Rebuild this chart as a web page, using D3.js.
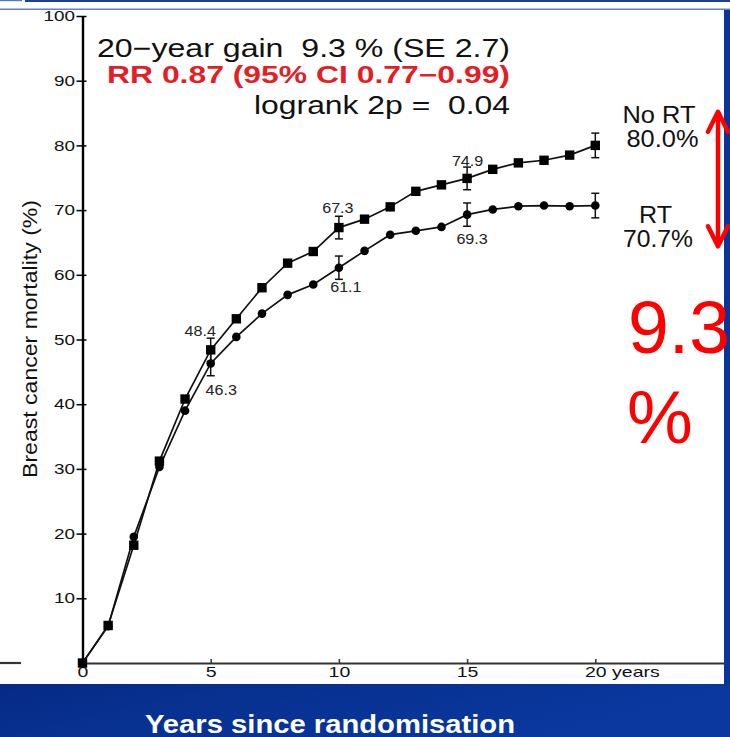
<!DOCTYPE html>
<html>
<head>
<meta charset="utf-8">
<script src="https://cdn.jsdelivr.net/npm/d3@7"></script>
<style>
  html, body { margin: 0; padding: 0; background: #fff; }
  svg { display: block; font-family: "Liberation Sans", Arial, Helvetica, sans-serif; }
  svg text { white-space: pre; }
</style>
</head>
<body>
<svg id="chart" width="730" height="737"></svg>
<script>
// Cumulative breast cancer mortality (%) by year since randomisation
const years = d3.range(0, 21);
const noRT = [0, 5.8, 18.2, 31.2, 40.8, 48.4, 53.2, 58.0, 61.8, 63.6, 67.3, 68.6, 70.5, 72.9, 73.9, 74.9, 76.3, 77.3, 77.7, 78.5, 80.0];
const rt   = [0, 5.7, 19.5, 30.3, 39.0, 46.3, 50.4, 54.0, 56.9, 58.5, 61.1, 63.7, 66.2, 66.8, 67.4, 69.3, 70.1, 70.6, 70.7, 70.6, 70.7];

// Years with error bars and their half-widths (percentage points)
const errYears = [5, 10, 15, 20];
const noRTErr = [1.8, 1.75, 1.75, 1.9];
const rtErr   = [1.9, 1.8, 1.8, 1.9];

// Years whose values are printed next to the curves
const labelYears = [5, 10, 15];

const xTicks = [0, 5, 10, 15, 20];
const yTicks = [10, 20, 30, 40, 50, 60, 70, 80, 90, 100];

const titleLines = ["20\u2212year gain  9.3 % (SE 2.7)", "RR 0.87 (95% CI 0.77\u22120.99)", "logrank 2p =  0.04"];
const gain = 9.3;
const endLabels = [["No RT", "80.0%"], ["RT", "70.7%"]];
// Extent of the double arrow spanning the gap (percent)
const arrowSpan = [85.2, 64.4];

const svg = d3.select("#chart");
const W = 730, H = 737;

const x = d3.scaleLinear().domain([0, 25]).range([82.5, 723.5]);
const y = d3.scaleLinear().domain([0, 100]).range([663, 16]);

// stretch helpers: widen glyphs horizontally
function stretch(sel, f) {
  sel.each(function () {
    const n = this.getComputedTextLength();
    this.setAttribute("textLength", n * f);
    this.setAttribute("lengthAdjust", "spacingAndGlyphs");
  });
}
function fit(sel, w) {
  sel.attr("textLength", w).attr("lengthAdjust", "spacingAndGlyphs");
}

svg.append("rect").attr("width", W).attr("height", H).attr("fill", "#fff");

// ---- axes ----
const xAxis = svg.append("g")
  .attr("transform", `translate(0,${y(0)})`)
  .call(d3.axisBottom(x).tickValues(xTicks).tickSize(-4).tickSizeOuter(0).tickPadding(3)
    .tickFormat(d => d === 20 ? "20 years" : d));
xAxis.select(".domain").attr("stroke", "#333").attr("stroke-width", 2.2);
xAxis.selectAll(".tick line").attr("stroke", "#333").attr("stroke-width", 1.5);
xAxis.selectAll(".tick text").attr("font-size", 15).attr("fill", "#111")
  .attr("font-family", "Liberation Sans, Arial, sans-serif");
// the "20" of "20 years" sits centred on its tick
const probe = svg.append("text").attr("font-size", 15).text("20");
const w20 = probe.node().getComputedTextLength();
probe.remove();
xAxis.selectAll(".tick text").filter(d => d === 20)
  .attr("text-anchor", "start").attr("x", -w20 * 1.3 / 2);
stretch(xAxis.selectAll(".tick text"), 1.3);

// short stub of the baseline on the far left
svg.append("line").attr("x1", 0).attr("x2", 21).attr("y1", y(0)).attr("y2", y(0))
  .attr("stroke", "#333").attr("stroke-width", 2.2);

const yAxis = svg.append("g")
  .attr("transform", `translate(${x(0)},0)`)
  .call(d3.axisLeft(y).tickValues(yTicks).tickSize(6).tickSizeOuter(0).tickPadding(1.5));
yAxis.select(".domain").attr("stroke", "#000").attr("stroke-width", 2.4);
yAxis.selectAll(".tick line").attr("x1", 4).attr("stroke", "#000").attr("stroke-width", 1.5);
yAxis.selectAll(".tick text").attr("font-size", 14.5).attr("fill", "#111")
  .attr("font-family", "Liberation Sans, Arial, sans-serif");
stretch(yAxis.selectAll(".tick text"), 1.3);

// y axis title
svg.append("text")
  .attr("transform", `translate(37,${339}) rotate(-90)`)
  .attr("text-anchor", "middle").attr("font-size", 20.5).attr("fill", "#111")
  .text("Breast cancer mortality (%)")
  .call(fit, 278);

// ---- curves ----
const line = d3.line().x((d, i) => x(years[i])).y(d => y(d));
const plot = svg.append("g");
[rt, noRT].forEach(s => {
  plot.append("path").datum(s).attr("d", line)
    .attr("fill", "none").attr("stroke", "#111").attr("stroke-width", 1.7);
});

// error bars
function errorBars(series, errs) {
  errYears.forEach((yr, k) => {
    const cx = x(yr), v = series[yr], e = errs[k];
    const g = plot.append("g").attr("stroke", "#111").attr("stroke-width", 1.5);
    g.append("line").attr("x1", cx).attr("x2", cx).attr("y1", y(v + e)).attr("y2", y(v - e));
    [v + e, v - e].forEach(t => g.append("line")
      .attr("x1", cx - 4).attr("x2", cx + 4).attr("y1", y(t)).attr("y2", y(t)));
  });
}
errorBars(noRT, noRTErr);
errorBars(rt, rtErr);

// markers: circles for RT, squares for no RT
plot.selectAll("circle.rt").data(rt.slice(1)).join("circle")
  .attr("cx", (d, i) => x(years[i + 1])).attr("cy", d => y(d)).attr("r", 4.3).attr("fill", "#000");
plot.selectAll("rect.nort").data(noRT).join("rect")
  .attr("x", (d, i) => x(years[i]) - 4.7).attr("y", d => y(d) - 4.7)
  .attr("width", 9.4).attr("height", 9.4).attr("fill", "#000");

// value labels (offsets keep them clear of the bars)
const labelNudgeNoRT = [[-10.5, -13.8], [-1, -14.3], [0.5, -12.7]];
const labelNudgeRT   = [[10.5, 31.6], [7, 24], [5, 29.4]];
function valueLabels(series, nudges) {
  labelYears.forEach((yr, k) => {
    plot.append("text")
      .attr("x", x(yr) + nudges[k][0]).attr("y", y(series[yr]) + nudges[k][1])
      .attr("text-anchor", "middle").attr("font-size", 14).attr("fill", "#222")
      .text(series[yr].toFixed(1))
      .call(stretch, 1.15);
  });
}
valueLabels(noRT, labelNudgeNoRT);
valueLabels(rt, labelNudgeRT);

// ---- header text ----
const head = svg.append("g").attr("text-anchor", "end");
head.append("text").attr("x", 510).attr("y", 57.3).attr("font-size", 25.5).attr("fill", "#111")
  .text(titleLines[0]).call(fit, 413);
head.append("text").attr("x", 510).attr("y", 83.3).attr("font-size", 24).attr("font-weight", "bold")
  .attr("fill", "#e31e26").text(titleLines[1]).call(fit, 403);
head.append("text").attr("x", 510).attr("y", 114).attr("font-size", 26).attr("fill", "#111")
  .text(titleLines[2]).call(fit, 256);

// ---- end-of-curve labels ----
const endG = svg.append("g").attr("text-anchor", "middle").attr("font-size", 23).attr("fill", "#111");
endG.append("text").attr("x", 659).attr("y", 123).text(endLabels[0][0]).call(fit, 73);
endG.append("text").attr("x", 662.5).attr("y", 146.7).text(endLabels[0][1]).call(fit, 72);
endG.append("text").attr("x", 655.5).attr("y", 222.7).text(endLabels[1][0]).call(fit, 33);
endG.append("text").attr("x", 658).attr("y", 246.7).text(endLabels[1][1]).call(fit, 70);

// ---- slide frame ----
const defs = svg.append("defs");
const grad = defs.append("linearGradient").attr("id", "band")
  .attr("x1", "0%").attr("y1", "0%").attr("x2", "100%").attr("y2", "30%");
grad.append("stop").attr("offset", "0%").attr("stop-color", "#062a86");
grad.append("stop").attr("offset", "30%").attr("stop-color", "#07308f");
grad.append("stop").attr("offset", "100%").attr("stop-color", "#0a389f");

svg.append("rect").attr("x", 0).attr("y", 684).attr("width", W).attr("height", H - 684).attr("fill", "url(#band)");
svg.append("rect").attr("x", 724).attr("y", 10).attr("width", 6).attr("height", 674).attr("fill", "#0a3499");
svg.append("rect").attr("x", 25).attr("y", 0).attr("width", W - 25).attr("height", 2).attr("fill", "#1c3f9c");
svg.append("rect").attr("x", 0).attr("y", 0).attr("width", 22).attr("height", 1.2).attr("fill", "#5a78c4");
svg.append("rect").attr("x", 0).attr("y", 8.6).attr("width", W).attr("height", 1.2).attr("fill", "#3e60b6");

svg.append("text").attr("x", 330).attr("y", 733).attr("text-anchor", "middle")
  .attr("font-size", 25).attr("font-weight", "bold").attr("fill", "#fff")
  .text("Years since randomisation").call(fit, 370);

// ---- gap annotation ----
const red = "#ff0000";
const ax = 718, yTop = y(arrowSpan[0]), yBot = y(arrowSpan[1]);
const arrow = svg.append("g").attr("stroke", red).attr("stroke-width", 4.5)
  .attr("stroke-linecap", "round").attr("stroke-linejoin", "round").attr("fill", "none");
arrow.append("line").attr("x1", ax).attr("x2", ax).attr("y1", yTop + 2).attr("y2", yBot - 2);
arrow.append("polyline").attr("points", `${ax - 10},${yTop + 20} ${ax},${yTop} ${ax + 10},${yTop + 20}`);
arrow.append("polyline").attr("points", `${ax - 10},${yBot - 20} ${ax},${yBot} ${ax + 10},${yBot - 20}`);

svg.append("text").attr("x", 628).attr("y", 353).attr("font-size", 74).attr("fill", red)
  .text(gain.toFixed(1)).call(fit, 102);
svg.append("text").attr("x", 627).attr("y", 443).attr("font-size", 74).attr("fill", red).text("%");
</script>
</body>
</html>
